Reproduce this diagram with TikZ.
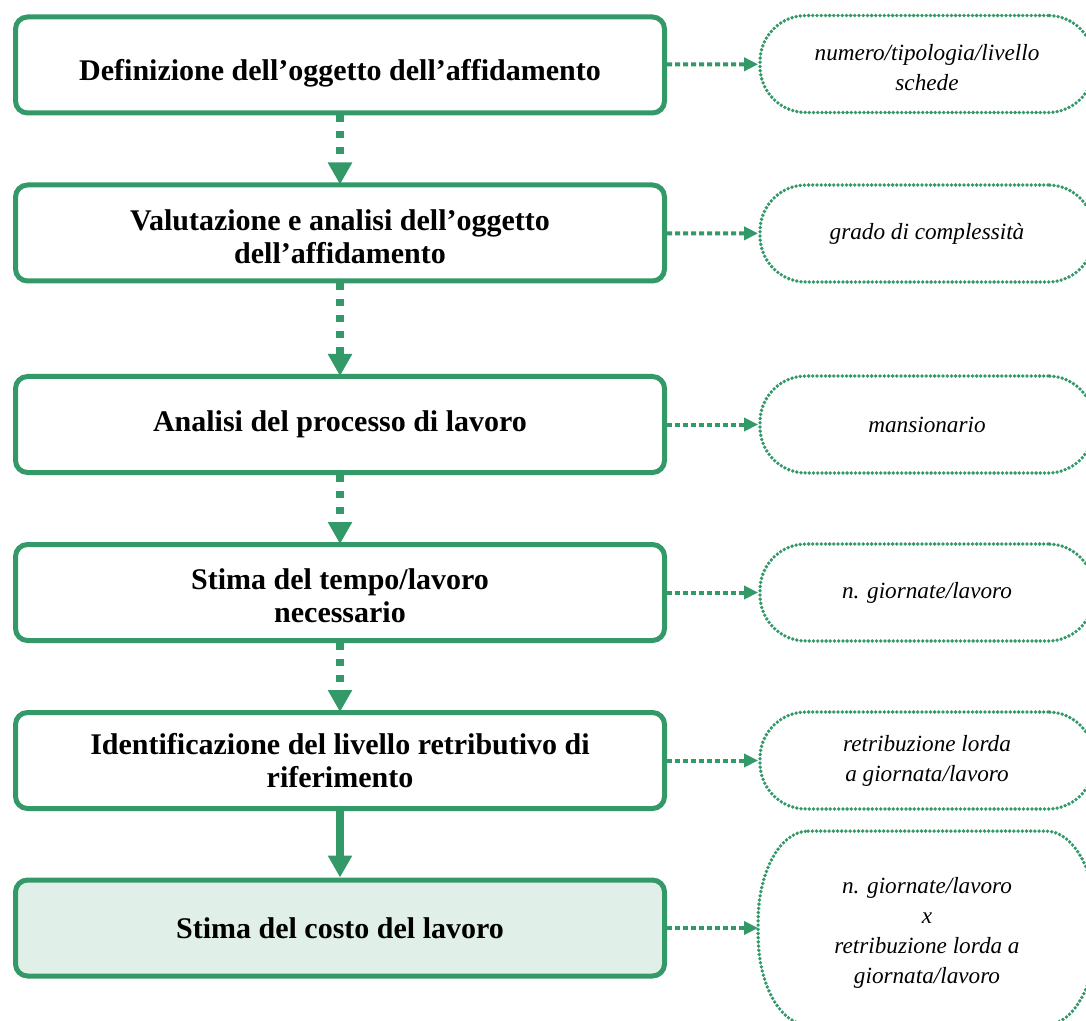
\documentclass[tikz,border=0pt]{standalone}
\usepackage{fontspec}
\setmainfont{Liberation Serif}
\usetikzlibrary{arrows.meta}
\definecolor{dgreen}{RGB}{52,153,104}
\definecolor{lgreen}{RGB}{224,240,232}
\begin{document}
\begin{tikzpicture}[x=0.5pt,y=-0.5pt,
  mainbox/.style={draw=dgreen, line width=2.5pt, rounded corners=6pt, minimum width=324.5pt, minimum height=48pt, inner sep=0pt},
  btext/.style={align=center, font=\fontsize{15}{16.5}\selectfont\bfseries, inner sep=0pt},
  outline/.style={draw=dgreen, line width=1.9pt, line cap=round, dash pattern=on 0pt off 2.1pt},
  outbox/.style={outline, rounded corners=23pt, minimum width=167pt, minimum height=48.5pt, inner sep=0pt},
  itext/.style={align=center, font=\fontsize{11.6}{15}\selectfont\itshape, inner sep=0pt},
  vflow/.style={draw=dgreen, line width=4pt, dash pattern=on 3.5pt off 4.5pt, -{Triangle[width=11.5pt,length=11pt]}, shorten >=-1pt},
  vsolid/.style={draw=dgreen, line width=4pt, -{Triangle[width=11.5pt,length=11pt]}},
  hflow/.style={draw=dgreen, line width=2pt, dash pattern=on 2.5pt off 1.5pt, -{Triangle[width=6.5pt,length=7pt]}}
]
\useasboundingbox (0,0) rectangle (1086,1021);
\node[mainbox] (b1) at (340,65) {};
\node[mainbox] (b2) at (340,233) {};
\node[mainbox] (b3) at (340,424.5) {};
\node[mainbox] (b4) at (340,592.5) {};
\node[mainbox] (b5) at (340,760.5) {};
\node[mainbox, fill=lgreen] (b6) at (340,928) {};
\node[btext] (t1) at ([yshift=-4pt]b1.center) {Definizione dell’oggetto dell’affidamento};
\node[btext] (t2) at ([yshift=-2pt]b2.center) {Valutazione e analisi dell’oggetto\\dell’affidamento};
\node[btext] (t3) at (b3.center) {Analisi del processo di lavoro};
\node[btext] (t4) at ([yshift=-1.5pt]b4.center) {Stima del tempo/lavoro\\necessario};
\node[btext] (t5) at (b5.center) {Identificazione del livello retributivo di\\riferimento};
\node[btext] (t6) at (b6.center) {Stima del costo del lavoro};

\node[outbox] (o1) at (927,64) {};
\node[outbox] (o2) at (927,233.5) {};
\node[outbox] (o3) at (927,424.5) {};
\node[outbox] (o4) at (927,592.5) {};
\node[outbox] (o5) at (927,760.5) {};
\node[outbox, draw=none, minimum height=95pt] (o6) at (927,928) {};
\node[itext] (u1) at ([yshift=-2pt]o1.center) {numero/tipologia/livello\\schede};
\node[itext] (u2) at (o2.center) {grado di complessità};
\node[itext] (u3) at (o3.center) {mansionario};
\node[itext] (u4) at (o4.center) {n. giornate/lavoro};
\node[itext] (u5) at (o5.center) {retribuzione lorda\\a giornata/lavoro};
\node[itext] (u6) at ([yshift=-2.5pt]o6.center) {n. giornate/lavoro\\x\\retribuzione lorda a\\giornata/lavoro};
\draw[outline] ([xshift=25pt]o6.north west) -- ([xshift=-25pt]o6.north east)
  arc[start angle=90, end angle=0, x radius=25pt, y radius=45pt]
  -- ([yshift=45pt]o6.south east)
  arc[start angle=0, end angle=-90, x radius=25pt, y radius=45pt]
  -- ([xshift=25pt]o6.south west)
  arc[start angle=270, end angle=180, x radius=25pt, y radius=45pt]
  -- ([yshift=-45pt]o6.north west)
  arc[start angle=180, end angle=90, x radius=25pt, y radius=45pt];

\draw[vflow] (b1) -- (b2);
\draw[vflow] (b2) -- (b3);
\draw[vflow] (b3) -- (b4);
\draw[vflow] (b4) -- (b5);
\draw[vsolid] (b5) -- (b6);

\foreach \i in {1,...,6} {\draw[hflow] (b\i) -- (o\i);}
\end{tikzpicture}
\end{document}
